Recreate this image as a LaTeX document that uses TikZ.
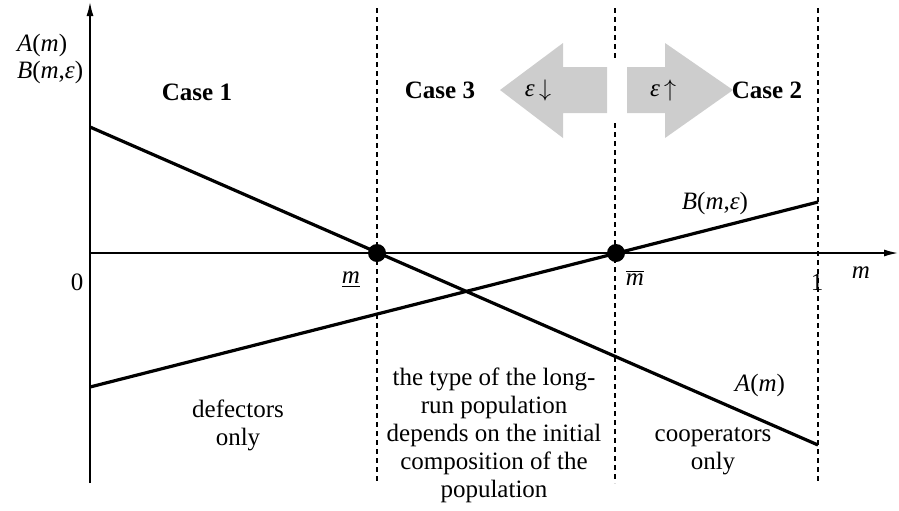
\documentclass[tikz,border=0pt]{standalone}
\usepackage{fontspec}
\setmainfont{Liberation Serif}
\usetikzlibrary{arrows.meta}
\definecolor{arrowgray}{RGB}{205,205,205}
\newcommand{\mi}[1]{\textit{#1}}

\begin{document}
\begin{tikzpicture}[x=0.5pt,y=-0.5pt,
    txt/.style={font=\fontsize{12.5}{14}\selectfont},
    casetxt/.style={font=\fontsize{12.5}{14}\selectfont\bfseries},
    region/.style={txt,align=center},
    thresh/.style={line width=0.6pt,dash pattern=on 2.5pt off 2pt},
    payoff/.style={line width=1.6pt},
    eqpt/.style={circle,fill=black,inner sep=0pt,minimum size=9pt},
    shiftarrow/.style={fill=arrowgray,draw=none},
    >={Latex[length=7pt,width=3.5pt]}]
	\path[use as bounding box] (0,0) rectangle (899,510);

	\coordinate (O) at (90,253);
	\coordinate (ytop) at (90,2);
	\coordinate (ybot) at (90,483);
	\coordinate (xend) at (898,253);
	\draw[line width=0.75pt,->] (ybot) -- (ytop);
	\draw[line width=0.75pt,->] (O) -- (xend);

	\draw[thresh] (377,8) -- (377,483);
	\draw[thresh] (615,8) -- (615,60);
	\draw[thresh] (615,123) -- (615,483);
	\draw[thresh] (818,8) -- (818,483);

	\fill[shiftarrow] (607,67) -- (563,67) -- (563,43) -- (500,90) -- (563,138) -- (563,113) -- (607,113) -- cycle;
	\fill[shiftarrow] (627,67) -- (665,67) -- (665,43) -- (733,90) -- (665,138) -- (665,113) -- (627,113) -- cycle;
	\node[txt] (epsdown) at (538,90) {\mi{ε}\,$\downarrow$};
	\node[txt] (epsup) at (663,90) {\mi{ε}\,$\uparrow$};

	\coordinate (Astart) at (90,127);
	\coordinate (Aend) at (818,445);
	\coordinate (Bstart) at (90,387);
	\coordinate (Bend) at (818,202);
	\draw[payoff] (Astart) -- (Aend);
	\draw[payoff] (Bstart) -- (Bend);

	\node[eqpt] (mlow) at (377,253) {};
	\node[eqpt] (mhigh) at (616,253) {};

	\node[txt,anchor=west] (ylabA) at (10,45) {\mi{A}(\mi{m})};
	\node[txt,anchor=west] (ylabB) at (10,72) {\mi{B}(\mi{m},\mi{ε})};
	\node[txt] (zero) at (77,282) {0};
	\node[txt] (mlowlab) at (351,280) {\underline{\mi{m}}};
	\node[txt] (mhighlab) at (635,278) {$\overline{\hbox{\mi{m}}}$};
	\node[txt] (one) at (817,282) {1};
	\node[txt] (xlab) at (861,273) {\mi{m}};

	\node[casetxt] (case1) at (197,92) {Case 1};
	\node[casetxt] (case3) at (440,90) {Case 3};
	\node[casetxt] (case2) at (767,90) {Case 2};

	\node[txt] (Blab) at (715,203) {\mi{B}(\mi{m},\mi{ε})};
	\node[txt] (Alab) at (760,385) {\mi{A}(\mi{m})};

	\node[region] (defect) at (238,425) {defectors\\only};
	\node[region] (mixed) at (494,435) {the type of the long-\\run population\\depends on the initial\\composition of the\\population};
	\node[region] (coop) at (713,451) {cooperators\\only};
\end{tikzpicture}
\end{document}
